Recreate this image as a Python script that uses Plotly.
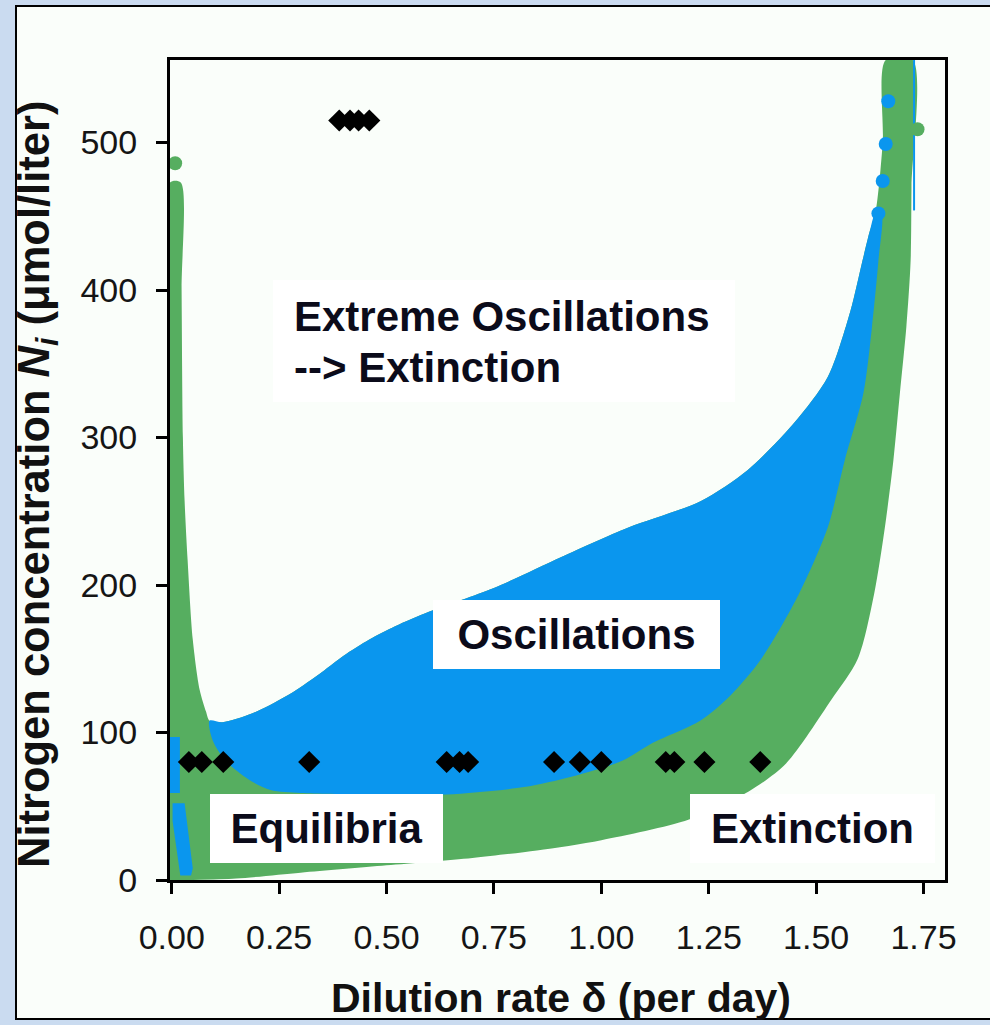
import plotly.graph_objects as go

# ---- data -------------------------------------------------------------
# Oscillation region (blue): upper and lower boundaries
osc_upper_x = [0.088, 0.118, 0.188, 0.28, 0.35, 0.40, 0.46, 0.52, 0.60, 0.75, 0.907,
               1.063, 1.232, 1.341, 1.449, 1.527, 1.58, 1.608, 1.625, 1.638]
osc_upper_y = [108, 107, 113, 127, 141, 152, 163, 172, 182, 198, 219,
               239, 257, 278, 310, 341, 386, 420, 440, 452]
osc_lower_x = [0.088, 0.095, 0.125, 0.18, 0.23, 0.30, 0.45, 0.64, 0.82, 0.93, 1.05,
               1.12, 1.23, 1.30, 1.37, 1.46, 1.527, 1.567, 1.61, 1.63, 1.645, 1.652]
osc_lower_y = [108, 95, 81, 68, 61, 59, 58, 58, 63, 70, 81,
               93, 108, 125, 149, 194, 239, 285, 330, 375, 420, 452]

# Equilibrium / extinction region (green): left branch and outer boundary
eq_left_x = [-0.004, -0.004, 0.021, 0.023, 0.026, 0.030, 0.037, 0.049, 0.065, 0.080]
eq_left_y = [0, 473, 473, 400, 300, 257, 217, 163, 129, 114]
eq_top_right_x = [1.655, 1.662, 1.725, 1.722]
eq_top_right_y = [500, 556, 556, 470]
eq_outer_x = [1.72, 1.71, 1.695, 1.68, 1.66, 1.635, 1.597, 1.535, 1.43, 1.343, 1.204,
              1.0, 0.85, 0.7, 0.5, 0.3, 0.15, 0.05]
eq_outer_y = [420, 375, 330, 285, 239, 194, 150, 122, 79, 60, 41,
              27, 20, 15, 10, 5, 1, 0]

# Oscillating runs near zero dilution (blue strips)
low_osc_x = [-0.004, 0.019, 0.019, -0.004, None, 0.002, 0.030, 0.049, 0.045, 0.020, 0.002]
low_osc_y = [97, 97, 59, 59, None, 52, 52, 8, 3, 3, 40]

# Scattered oscillating runs at high dilution
high_osc_x = [1.668, 1.662, 1.655, 1.645]
high_osc_y = [528, 499, 474, 452]
edge_osc_x = [1.728, 1.728]
edge_osc_y = [556, 454]

# Isolated equilibrium runs
eq_pts_x = [0.008, 1.736]
eq_pts_y = [486, 509]

# Experimental runs (black diamonds)
exp_low_x = [0.04, 0.07, 0.12, 0.32, 0.64, 0.67, 0.69, 0.89, 0.95, 1.00,
             1.15, 1.17, 1.24, 1.37]
exp_low_y = [80] * len(exp_low_x)
exp_high_x = [0.39, 0.415, 0.435, 0.46]
exp_high_y = [515] * len(exp_high_x)

x_ticks = [0, 0.25, 0.5, 0.75, 1.0, 1.25, 1.5, 1.75]
x_tick_text = ["0.00", "0.25", "0.50", "0.75", "1.00", "1.25", "1.50", "1.75"]
y_ticks = [0, 100, 200, 300, 400, 500]

GREEN = "#56AE60"
BLUE = "#0A96EE"
FONT = "Liberation Sans, Arial, sans-serif"
INK = "#0B0B1A"

# ---- geometry helpers (pixel -> paper) ---------------------------------
W, H = 990, 1025
L, R, T, B = 170, 945, 60, 880


def px_x(px):
    return (px - L) / (R - L)


def px_y(py):
    return (B - py) / (B - T)


fig = go.Figure()

smooth = dict(width=0, shape="spline", smoothing=0.8)

# green region: left branch, top of the oscillation band, outer boundary
green_x = eq_left_x + osc_upper_x + eq_top_right_x + eq_outer_x
green_y = eq_left_y + osc_upper_y + eq_top_right_y + eq_outer_y
fig.add_trace(go.Scatter(x=green_x, y=green_y, mode="lines", fill="toself",
                         fillcolor=GREEN, line=smooth, hoverinfo="skip"))

# blue oscillation band
blue_x = osc_upper_x + osc_lower_x[::-1]
blue_y = osc_upper_y + osc_lower_y[::-1]
fig.add_trace(go.Scatter(x=blue_x, y=blue_y, mode="lines", fill="toself",
                         fillcolor=BLUE, line=smooth, hoverinfo="skip"))

fig.add_trace(go.Scatter(x=low_osc_x, y=low_osc_y, mode="lines", fill="toself",
                         fillcolor=BLUE, line=dict(width=0), hoverinfo="skip"))
fig.add_trace(go.Scatter(x=edge_osc_x, y=edge_osc_y, mode="lines",
                         line=dict(color=BLUE, width=2), hoverinfo="skip"))
fig.add_trace(go.Scatter(x=high_osc_x, y=high_osc_y, mode="markers",
                         marker=dict(color=BLUE, size=14, line=dict(width=0)),
                         hoverinfo="skip"))
fig.add_trace(go.Scatter(x=eq_pts_x, y=eq_pts_y, mode="markers",
                         marker=dict(color=GREEN, size=14, line=dict(width=0)),
                         hoverinfo="skip"))

# experimental runs
fig.add_trace(go.Scatter(x=exp_low_x + exp_high_x, y=exp_low_y + exp_high_y,
                         mode="markers",
                         marker=dict(symbol="diamond", color="black", size=17,
                                     line=dict(width=0)),
                         hoverinfo="skip"))

axis_common = dict(showline=True, linecolor="black", linewidth=3, mirror=True,
                   ticks="outside", ticklen=11, tickwidth=3, tickcolor="black",
                   showgrid=False, zeroline=False, layer="below traces",
                   tickfont=dict(family=FONT, size=34, color="#151515"))

fig.update_xaxes(range=[-0.004, 1.80], tickvals=x_ticks, ticktext=x_tick_text,
                 ticklabelstandoff=14, **axis_common)
fig.update_yaxes(range=[0, 556], tickvals=y_ticks, ticklabelstandoff=12,
                 **axis_common)

shapes = [
    # white page with a dark frame on a light blue slide background
    dict(type="rect", xref="paper", yref="paper", layer="below",
         x0=px_x(16), x1=px_x(1000), y0=px_y(1019), y1=px_y(6),
         fillcolor="#FAFEFA", line=dict(color="black", width=2)),
    # backing box of the upper label
    dict(type="rect", xref="paper", yref="paper", layer="below",
         x0=px_x(273), x1=px_x(735), y0=px_y(402), y1=px_y(280),
         fillcolor="white", line=dict(width=0)),
]

label_font = dict(family=FONT, size=42, color=INK, weight="bold")
annotations = [
    dict(text="Extreme Oscillations", x=px_x(293), y=px_y(317),
         xanchor="left", yanchor="middle"),
    dict(text="--&gt; Extinction", x=px_x(293), y=px_y(367),
         xanchor="left", yanchor="middle"),
    dict(text="Oscillations", x=px_x(576.5), y=px_y(634), bgcolor="white",
         width=265, borderpad=11),
    dict(text="Equilibria", x=px_x(326.5), y=px_y(828), bgcolor="white",
         width=211, borderpad=11),
    dict(text="Extinction", x=px_x(812.5), y=px_y(828), bgcolor="white",
         width=223, borderpad=11),
]
for a in annotations:
    a.update(xref="paper", yref="paper", showarrow=False, font=label_font,
             borderwidth=0)
    a.setdefault("xanchor", "center")
    a.setdefault("yanchor", "middle")

# axis titles
annotations.append(dict(
    text="Dilution rate δ (per day)",
    x=px_x(561), y=px_y(998), xref="paper", yref="paper", showarrow=False,
    xanchor="center", yanchor="middle",
    font=dict(family=FONT, size=41, color="#111111", weight="bold")))
annotations.append(dict(
    text="Nitrogen concentration <i>N<sub>i</sub></i> (μmol/liter)",
    x=px_x(37), y=px_y(485), xref="paper", yref="paper", showarrow=False,
    textangle=-90, xanchor="center", yanchor="middle",
    font=dict(family=FONT, size=43.5, color="#111111", weight="bold")))

fig.update_layout(
    width=W, height=H,
    margin=dict(l=L, r=W - R, t=T, b=H - B, autoexpand=False),
    paper_bgcolor="#CADBF0", plot_bgcolor="rgba(0,0,0,0)",
    showlegend=False, shapes=shapes, annotations=annotations,
)

fig.write_html("out.html")
